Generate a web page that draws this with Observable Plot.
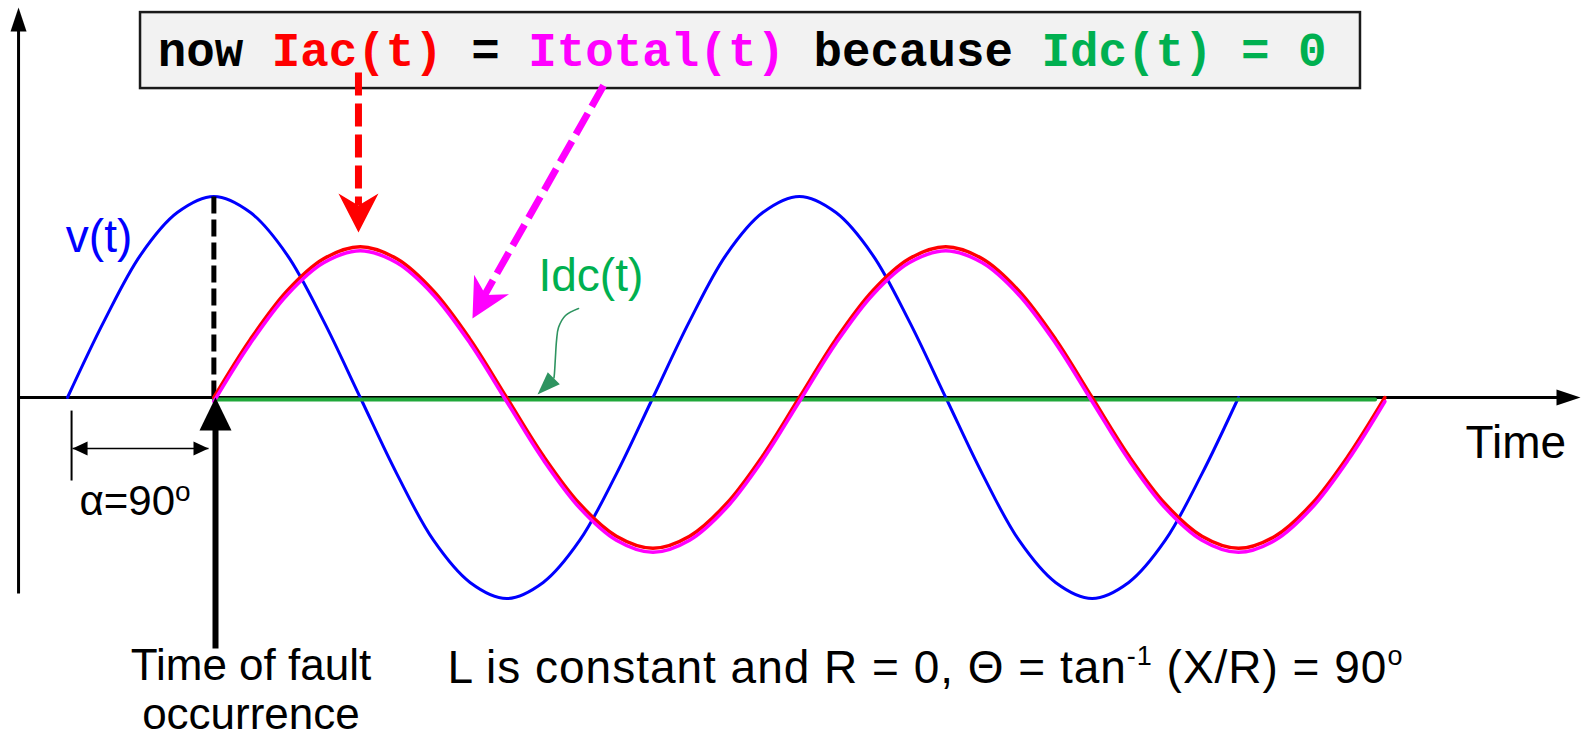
<!DOCTYPE html>
<html><head><meta charset="utf-8">
<script src="https://cdn.jsdelivr.net/npm/d3@7"></script>
<script src="https://cdn.jsdelivr.net/npm/@observablehq/plot@0.6"></script>
<style>html,body{margin:0;padding:0;background:#fff;overflow:hidden}</style>
</head><body><div id="chart"></div>
<script>
// x: electrical angle in degrees (0 = start of v(t)), y: per-unit of the v(t) peak
const vPhase = [0,22.5,45,67.5,90,112.5,135,157.5,180,202.5,225,247.5,270,292.5,315,337.5,360,382.5,405,427.5,450,472.5,495,517.5,540,562.5,585,607.5,630,652.5,675,697.5,720];
const vVolt  = [0,0.38,0.71,0.92,1,0.92,0.71,0.38,0,-0.38,-0.71,-0.92,-1,-0.92,-0.71,-0.38,0,0.38,0.71,0.92,1,0.92,0.71,0.38,0,-0.38,-0.71,-0.92,-1,-0.92,-0.71,-0.38,0];
const iPhase = [90,112.5,135,157.5,180,202.5,225,247.5,270,292.5,315,337.5,360,382.5,405,427.5,450,472.5,495,517.5,540,562.5,585,607.5,630,652.5,675,697.5,720,742.5,765,787.5,810];
const iAc    = [0,0.29,0.53,0.69,0.75,0.69,0.53,0.29,0,-0.29,-0.53,-0.69,-0.75,-0.69,-0.53,-0.29,0,0.29,0.53,0.69,0.75,0.69,0.53,0.29,0,-0.29,-0.53,-0.69,-0.75,-0.69,-0.53,-0.29,0];
const iTotal = iAc.slice(); // Idc = 0, so Itotal equals Iac
const idcPhase = [90, 804];
const idcVal   = [0, 0];
const faultPhase = 90;

// annotation anchors (same data units)
const yAxisSpan = {x: -30.1, y1: -0.975, y2: 1.83, tip: 1.94};
const xAxisSpan = {y: 0, x1: -30.1, x2: 916, tip: 930.3};
const boxSpan = {x1: 44.9, x2: 795, y1: 1.537, y2: 1.915};
const redArrow = {x: 178.9, y1: 1.617, y2: 0.955, tip: 0.821};
const magArrow = {x1: 329.6, y1: 1.552, x2: 256.5, y2: 0.51, tipX: 249.0, tipY: 0.393};
const faultArrow = {x: 91, y1: -1.249, y2: -0.16, tip: 0.0};
const alphaTick = {x: 2.5, y1: -0.065, y2: -0.413};
const alphaSpan = {y: -0.254, x1: 3.1, x2: 86.7};
const idcPointerX = [314.2, 306.2, 301.9, 300.7, 300.0, 299.4, 299.1];
const idcPointerY = [0.443, 0.408, 0.348, 0.284, 0.199, 0.119, 0.097];
const idcPointerTip = {x: 289.0, y: 0.015};

const boxText = "now Iac(t) = Itotal(t) because Idc(t) = 0";
const boxSegments = [["now ","#000"],["Iac(t)","#ff0000"],[" = ","#000"],["Itotal(t)","#ff00ff"],[" because ","#000"],["Idc(t) = 0","#00b050"]];
const labels = [
  {x: -1, y: 0.795, text: "v(t)", fill: "#0000ff"},
  {x: 289.6, y: 0.605, text: "Idc(t)", fill: "#00b050"},
  {x: 859.6, y: -0.230, text: "Time", fill: "#000"}
];
const faultLabel = {x: 112.8, y: -1.450, text: "Time of fault\noccurrence"};
const alphaLabel = {x: 7.4, y: -0.52, text: "α=90", sup: "o"};
const formulaText = "L is constant and R = 0, Θ = tan-1 (X/R) = 90o";
const formula = {x: 233.6, y: -1.345, width: 955, parts: [["L is constant and R = 0, Θ = tan", false],["-1", true],[" (X/R) = 90", false],["o", true]]};

function head(len, half, notch) {
  return {draw(ctx) {
    ctx.moveTo(0, 0); ctx.lineTo(half, len); ctx.lineTo(0, len - notch); ctx.lineTo(-half, len); ctx.closePath();
  }};
}

const vData = vPhase.map((p, i) => ({p, v: vVolt[i]}));
const acData = iPhase.map((p, i) => ({p, v: iAc[i]}));
const totData = iPhase.map((p, i) => ({p, v: iTotal[i]}));
const idcData = idcPhase.map((p, i) => ({p, v: idcVal[i]}));
const pointer = idcPointerX.map((p, i) => ({p, v: idcPointerY[i]}));
const font = "Liberation Sans, Arial, sans-serif";

const chart = Plot.plot({
  width: 1582, height: 740, margin: 0,
  style: {background: "#fff", overflow: "visible"},
  x: {domain: [0, 720], range: [67, 1238], axis: null},
  y: {domain: [-1, 1], range: [598, 196], axis: null},
  marks: [
    // text box
    Plot.rect([boxSpan], {x1: "x1", x2: "x2", y1: "y1", y2: "y2", fill: "#f2f2f2", stroke: "#1a1a1a", strokeWidth: 2.5}),
    Plot.text([{x: 55.5, y: 1.726}], {x: "x", y: "y", text: () => boxText, textAnchor: "start", fontFamily: "Liberation Mono, Courier New, monospace", fontWeight: "bold", fontSize: 47.5}),
    // axes
    Plot.link([yAxisSpan], {x1: "x", x2: "x", y1: "y1", y2: "y2", stroke: "#000", strokeWidth: 3}),
    Plot.dot([yAxisSpan], {x: "x", y: "tip", symbol: head(24, 8, 0), r: 5, fill: "#000", rotate: 0}),
    Plot.link([xAxisSpan], {x1: "x1", x2: "x2", y1: "y", y2: "y", stroke: "#000", strokeWidth: 3}),
    Plot.dot([xAxisSpan], {x: "tip", y: "y", symbol: head(24, 8, 0), r: 5, fill: "#000", rotate: 90}),
    // curves
    Plot.line(vData, {x: "p", y: "v", stroke: "#0000ff", strokeWidth: 3, curve: "catmull-rom"}),
    Plot.link([{x: faultPhase, y1: 1, y2: 0}], {x1: "x", x2: "x", y1: "y1", y2: "y2", stroke: "#000", strokeWidth: 5, strokeDasharray: "17,6"}),
    Plot.line(idcData, {x: "p", y: "v", stroke: "#20a83a", strokeWidth: 4, dy: 2}),
    Plot.line(acData, {x: "p", y: "v", stroke: "#ff0000", strokeWidth: 3.5, curve: "catmull-rom"}),
    Plot.line(totData, {x: "p", y: "v", stroke: "#ff00ff", strokeWidth: 3.5, curve: "catmull-rom", dy: 4}),
    // dashed pointer arrows
    Plot.link([redArrow], {x1: "x", x2: "x", y1: "y1", y2: "y2", stroke: "#ff0000", strokeWidth: 7, strokeDasharray: "23,8"}),
    Plot.dot([redArrow], {x: "x", y: "tip", symbol: head(39, 20, 12), r: 5, fill: "#ff0000", rotate: 180}),
    Plot.link([magArrow], {x1: "x1", x2: "x2", y1: "y1", y2: "y2", stroke: "#ff00ff", strokeWidth: 7, strokeDasharray: "24,8"}),
    Plot.dot([magArrow], {x: "tipX", y: "tipY", symbol: head(39, 20, 12), r: 5, fill: "#ff00ff", rotate: 209.3}),
    // fault arrow
    Plot.link([faultArrow], {x1: "x", x2: "x", y1: "y1", y2: "y2", stroke: "#000", strokeWidth: 6}),
    Plot.dot([faultArrow], {x: "x", y: "tip", symbol: head(33, 16, 0), r: 5, fill: "#000"}),
    // alpha dimension
    Plot.link([alphaTick], {x1: "x", x2: "x", y1: "y1", y2: "y2", stroke: "#000", strokeWidth: 2}),
    Plot.link([alphaSpan], {x1: "x1", x2: "x2", y1: "y", y2: "y", stroke: "#000", strokeWidth: 1.5}),
    Plot.dot([alphaSpan], {x: "x1", y: "y", symbol: head(15, 7, 0), r: 5, fill: "#000", rotate: 270}),
    Plot.dot([alphaSpan], {x: "x2", y: "y", symbol: head(15, 7, 0), r: 5, fill: "#000", rotate: 90}),
    // Idc pointer
    Plot.line(pointer, {x: "p", y: "v", stroke: "#2e9460", strokeWidth: 1.6, curve: "catmull-rom"}),
    Plot.dot([idcPointerTip], {x: "x", y: "y", symbol: head(23, 8.5, 0), r: 5, fill: "#2e9460", rotate: 225}),
    // labels
    Plot.text(labels, {x: "x", y: "y", text: "text", fill: "fill", textAnchor: "start", fontSize: 46, fontFamily: font}),
    Plot.text([faultLabel], {x: "x", y: "y", text: "text", textAnchor: "middle", fontSize: 44, lineHeight: 1.12, fontFamily: font}),
    Plot.text([alphaLabel], {x: "x", y: "y", text: "text", textAnchor: "start", fontSize: 42, fontFamily: font}),
    Plot.text([formula], {x: "x", y: "y", text: () => formulaText, textAnchor: "start", fontSize: 46, fontFamily: font})
  ]
});
// colour / superscript spans
const svg = d3.select(chart);
const byContent = s => svg.selectAll("text").filter(function() { return this.textContent === s; });
byContent(boxText).each(function() {
  const t = d3.select(this).text(null).style("white-space", "pre");
  boxSegments.forEach(([s, c]) => t.append("tspan").attr("fill", c).text(s));
});
byContent(alphaLabel.text).each(function() {
  const t = d3.select(this);
  t.append("tspan").attr("font-size", 28).attr("dy", -14).text(alphaLabel.sup);
});
byContent(formulaText).each(function() {
  const t = d3.select(this).text(null).style("white-space", "pre")
    .attr("textLength", formula.width).attr("lengthAdjust", "spacing");
  let up = false;
  formula.parts.forEach(([s, sup]) => {
    const ts = t.append("tspan").text(s);
    if (sup && !up) { ts.attr("font-size", 27).attr("dy", -18); up = true; }
    else if (!sup && up) { ts.attr("dy", 18); up = false; }
  });
});
document.getElementById("chart").append(chart);
</script></body></html>
